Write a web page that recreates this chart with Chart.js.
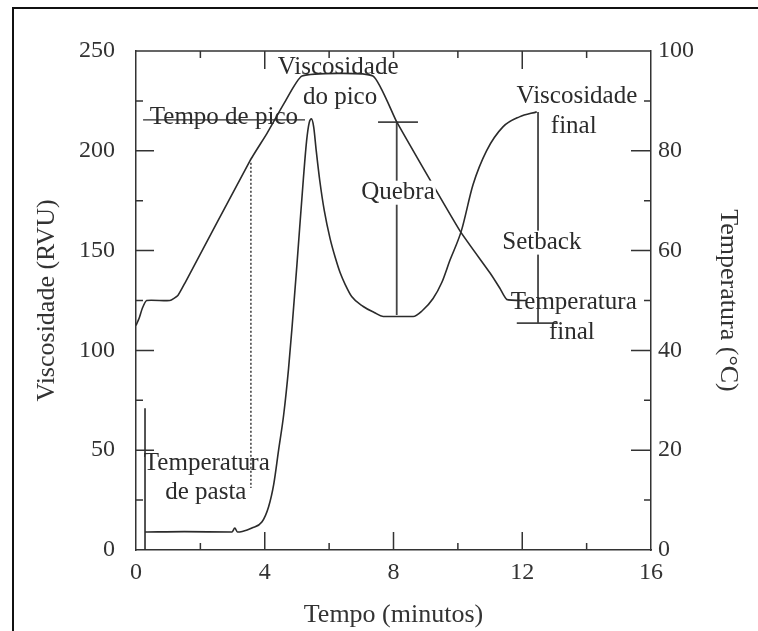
<!DOCTYPE html>
<html>
<head>
<meta charset="utf-8">
<script src="https://cdn.jsdelivr.net/npm/chart.js@4.4.1/dist/chart.umd.min.js"></script>
<style>
  html, body { margin: 0; padding: 0; background: #fff; }
  #wrap { position: relative; width: 758px; height: 631px; overflow: hidden; }
  #frame { position: absolute; left: 12px; top: 7px; width: 800px; height: 700px;
           border-left: 2px solid #111; border-top: 2px solid #111; pointer-events: none; }
</style>
</head>
<body>
<div id="wrap">
  <canvas id="rva" width="758" height="631"></canvas>
  <div id="frame"></div>
</div>
<script>
// viscosidade (RVU) x tempo (min)
const spikeTime = [0.28, 0.28];
const spikeVisc = [71, 0];

const viscTime = [0.28, 1.5, 2.98, 3.07, 3.15, 3.3, 3.6, 3.91, 4.12, 4.28, 4.43, 4.59, 4.74, 4.85,
  5.0, 5.2, 5.3, 5.38, 5.45, 5.52, 5.6, 5.71, 5.85, 6.03, 6.2, 6.34, 6.5, 6.7, 7.06, 7.4, 7.68,
  8.61, 8.9, 9.23, 9.5, 9.75, 10.11, 10.47, 10.89, 11.4, 11.91, 12.45];
const viscValues = [9, 9.2, 9, 11, 9, 9.3, 11, 14, 21.7, 33, 50, 68, 91, 112,
  143, 186, 205, 214, 216, 212, 200, 185, 170, 156, 146, 139, 133, 127, 122, 119, 117,
  117, 120, 126, 134, 145, 160, 183, 200, 212, 217, 219.5];

// temperatura (°C) x tempo (min)
const tempTime = [0, 0.1, 0.2, 0.33, 1.05, 1.3, 1.52, 3.54, 4.07, 4.6, 5.16, 7.36, 8.1, 10.06, 11.0, 11.3, 11.52, 12.15];
const tempValues = [45, 46.5, 48.5, 50, 50, 51, 53.5, 78, 83.5, 89.5, 95, 95, 85.8, 64, 55.5, 52.5, 50.2, 50];

// linhas de anotação (tempo, RVU)
const picoLineTime = [0.22, 5.25];
const picoLineVisc = [215.5, 215.5];
const pastaLineTime = [3.57, 3.57];
const pastaLineVisc = [194, 31];
const quebraTime = [7.52, 8.76, 8.1, 8.1];
const quebraVisc = [214.4, 214.4, 214.4, 117.7];
const setbackTime = [12.49, 12.49, 11.83, 13.1];
const setbackVisc = [219.5, 113.7, 113.7, 113.7];

// rótulos
const labelTexts = ["Viscosidade", "do pico", "Tempo de pico", "Quebra", "Viscosidade", "final",
  "Setback", "Temperatura", "final", "Temperatura", "de pasta"];
const labelTime = [6.28, 6.34, 2.73, 8.14, 13.7, 13.6, 12.61, 13.6, 13.54, 2.2, 2.17];
const labelVisc = [242, 226.5, 216.5, 179, 227, 212, 154, 124, 109, 43.6, 28.6];
const labelCover = [false, false, false, true, false, false, true, false, false, false, false];

const xTicksMinor = [2, 6, 10, 14];
const xTicksMajor = [4, 8, 12];
const xTopMajor = [4, 12];
const yTicks = [25, 50, 75, 100, 125, 150, 175, 200, 225];
const y2Ticks = [10, 20, 30, 40, 50, 60, 70, 80, 90];

const ink = "#2b2b2b";
const serif = "'Liberation Serif', 'DejaVu Serif', serif";

const toPoints = (xs, ys) => xs.map((x, i) => ({ x: x, y: ys[i] }));

const lineSet = (data, axis, extra) => Object.assign({
  data: data,
  yAxisID: axis,
  showLine: true,
  borderColor: ink,
  borderWidth: 1.6,
  pointRadius: 0,
  fill: false,
}, extra || {});

// ticks para dentro + borda de cima
const innerTicks = {
  id: "innerTicks",
  afterDatasetsDraw(chart) {
    const { ctx, chartArea: a, scales } = chart;
    const { x, y, y2 } = scales;
    ctx.save();
    ctx.strokeStyle = "#333";
    ctx.lineWidth = 1.5;
    ctx.beginPath();
    ctx.moveTo(a.left, a.top);
    ctx.lineTo(a.right, a.top);
    xTicksMajor.concat(xTicksMinor).forEach((v) => {
      const px = x.getPixelForValue(v);
      const lb = xTicksMajor.includes(v) ? 18 : 7;
      const lt = xTopMajor.includes(v) ? 18 : 7;
      ctx.moveTo(px, a.bottom);
      ctx.lineTo(px, a.bottom - lb);
      ctx.moveTo(px, a.top);
      ctx.lineTo(px, a.top + lt);
    });
    yTicks.forEach((v) => {
      const py = y.getPixelForValue(v);
      ctx.moveTo(a.left, py);
      ctx.lineTo(a.left + (v % 50 === 0 ? 18 : 7), py);
    });
    y2Ticks.forEach((v) => {
      const py = y2.getPixelForValue(v);
      ctx.moveTo(a.right, py);
      ctx.lineTo(a.right - (v % 20 === 0 ? 20 : 7), py);
    });
    ctx.stroke();

    // rótulos das anotações
    ctx.font = "25px " + serif;
    ctx.textAlign = "center";
    ctx.textBaseline = "middle";
    labelTexts.forEach((txt, i) => {
      const px = x.getPixelForValue(labelTime[i]);
      const py = y.getPixelForValue(labelVisc[i]);
      if (labelCover[i]) {
        const w = ctx.measureText(txt).width;
        ctx.fillStyle = "#fff";
        ctx.fillRect(px - w / 2 - 1, py - 12, w + 2, 24);
      }
      ctx.fillStyle = ink;
      ctx.fillText(txt, px, py);
    });
    ctx.restore();
  },
};

new Chart(document.querySelector("#rva"), {
  type: "scatter",
  data: {
    datasets: [
      lineSet(toPoints(spikeTime, spikeVisc), "y"),
      lineSet(toPoints(viscTime, viscValues), "y", { cubicInterpolationMode: "monotone" }),
      lineSet(toPoints(tempTime, tempValues), "y2", { tension: 0.15 }),
      lineSet(toPoints(picoLineTime, picoLineVisc), "y", { borderWidth: 1.4 }),
      lineSet(toPoints(pastaLineTime, pastaLineVisc), "y", { borderWidth: 1.4, borderDash: [2, 2] }),
      lineSet(toPoints(quebraTime, quebraVisc), "y", { borderWidth: 1.8, borderColor: "#444" }),
      lineSet(toPoints(setbackTime, setbackVisc), "y", { borderWidth: 1.8, borderColor: "#444" }),
    ],
  },
  options: {
    responsive: false,
    animation: false,
    devicePixelRatio: 1,
    layout: { padding: { top: 51, left: 0, right: 0, bottom: 0 } },
    plugins: { legend: { display: false }, tooltip: { enabled: false } },
    scales: {
      x: {
        type: "linear",
        min: 0,
        max: 16,
        afterFit: (s) => { s.height = 81; },
        grid: { display: false, drawTicks: false },
        border: { display: true, color: "#333", width: 1.5 },
        ticks: { stepSize: 4, padding: 8, color: "#333", font: { family: serif, size: 24 } },
        title: { display: true, text: "Tempo (minutos)", color: "#333",
          font: { family: serif, size: 26 }, padding: { top: 10, bottom: 0 } },
      },
      y: {
        position: "left",
        min: 0,
        max: 250,
        afterFit: (s) => { s.width = 136; },
        grid: { display: false, drawTicks: false },
        border: { display: true, color: "#333", width: 1.5 },
        ticks: { stepSize: 50, padding: 21, color: "#333", font: { family: serif, size: 24 } },
        title: { display: true, text: "Viscosidade (RVU)", color: "#333",
          font: { family: serif, size: 26 }, padding: { top: 32, bottom: 0 } },
      },
      y2: {
        position: "right",
        min: 0,
        max: 100,
        afterFit: (s) => { s.width = 107; },
        grid: { display: false, drawTicks: false },
        border: { display: true, color: "#333", width: 1.5 },
        ticks: { stepSize: 20, padding: 7, color: "#333", font: { family: serif, size: 24 } },
        title: { display: true, text: "Temperatura (°C)", color: "#333",
          font: { family: serif, size: 26 }, padding: { top: 15, bottom: 0 } },
      },
    },
  },
  plugins: [innerTicks],
});
</script>
</body>
</html>
